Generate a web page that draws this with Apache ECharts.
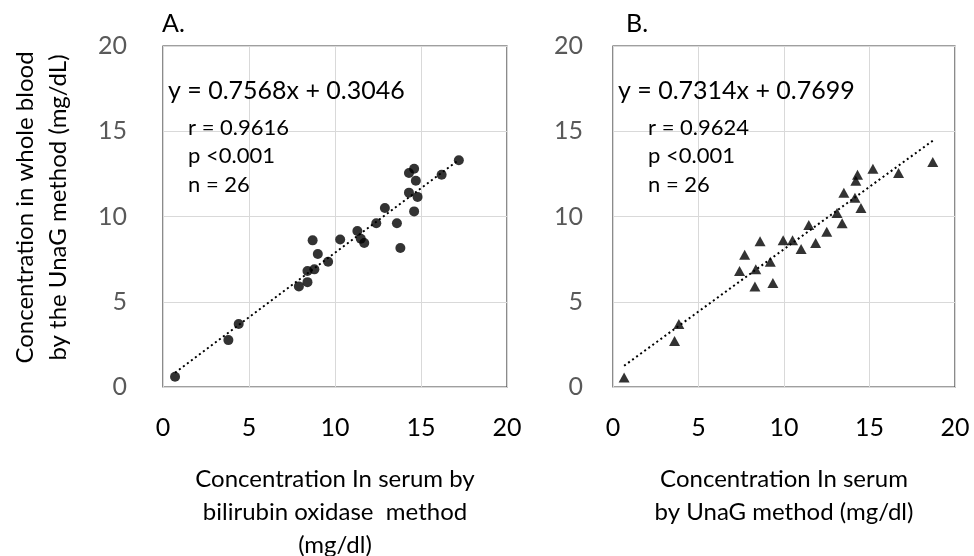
<!DOCTYPE html>
<html>
<head>
<meta charset="utf-8">
<script src="https://cdn.jsdelivr.net/npm/echarts@6/dist/echarts.min.js"></script>
<style>
  html, body { margin: 0; padding: 0; background: #fff; }
  #chart { width: 974px; height: 556px; }
</style>
</head>
<body>
<div id="chart"></div>
<script>
// panel A: serum (bilirubin oxidase) vs whole blood (UnaG)
const serumBOX = [0.7, 3.8, 4.4, 7.9, 8.4, 8.4, 8.8, 8.7, 9.0, 9.6, 10.3, 11.3, 11.5, 11.7, 12.4, 12.9, 13.6, 13.8, 14.3, 14.3, 14.6, 14.7, 14.6, 14.8, 16.2, 17.2];
const bloodA = [0.6, 2.75, 3.7, 5.9, 6.15, 6.8, 6.9, 8.6, 7.8, 7.35, 8.65, 9.15, 8.7, 8.45, 9.6, 10.5, 9.6, 8.15, 11.4, 12.55, 12.8, 12.1, 10.3, 11.15, 12.45, 13.3];

// panel B: serum (UnaG) vs whole blood (UnaG)
const serumUnaG = [0.65, 3.6, 3.85, 7.4, 7.7, 8.3, 8.35, 8.6, 9.2, 9.35, 9.95, 10.5, 11.0, 11.45, 11.85, 12.5, 13.1, 13.4, 13.5, 14.15, 14.2, 14.3, 14.5, 15.2, 16.7, 18.7];
const bloodB = [0.55, 2.7, 3.7, 6.8, 7.75, 5.9, 6.9, 8.55, 7.35, 6.1, 8.6, 8.6, 8.1, 9.5, 8.45, 9.1, 10.2, 9.6, 11.4, 11.1, 12.1, 12.45, 10.5, 12.8, 12.55, 13.2];

const fitA = { slope: 0.7568, intercept: 0.3046 };
const fitB = { slope: 0.7314, intercept: 0.7699 };
const statsA = ["r = 0.9616", "p <0.001", "n = 26"];
const statsB = ["r = 0.9624", "p <0.001", "n = 26"];
const ticks = [0, 5, 10, 15, 20];

const FONT = "Lato, 'Open Sans', sans-serif";

const pairs = (xs, ys) => xs.map((x, i) => [x, ys[i]]);
const fitLine = (xs, fit) => {
  const lo = Math.min(...xs), hi = Math.max(...xs);
  return [[lo, fit.slope * lo + fit.intercept], [hi, fit.slope * hi + fit.intercept]];
};

const axisCommon = {
  type: "value",
  min: ticks[0],
  max: ticks[ticks.length - 1],
  interval: 5,
  axisLine: { show: false },
  axisTick: { show: false },
  splitLine: { show: true, lineStyle: { color: "#d9d9d9", width: 1 } },
};
const xLabel = { fontSize: 25, color: "#000", margin: 28, fontFamily: FONT };
const yLabel = (m) => ({ fontSize: 25, color: "#595959", margin: m, padding: [8, 0, 0, 0], fontFamily: FONT });
const titleStyle = { fontSize: 24, color: "#000", lineHeight: 33, fontFamily: FONT };

const option = {
  animation: false,
  backgroundColor: "#fff",
  textStyle: { fontFamily: FONT },
  grid: [
    { left: 163, right: 467, top: 46, bottom: 169, outerBoundsMode: "none", containLabel: false, show: true, borderColor: "#404040", borderWidth: 1.2 },
    { left: 613, right: 19, top: 46, bottom: 169, outerBoundsMode: "none", containLabel: false, show: true, borderColor: "#404040", borderWidth: 1.2 },
  ],
  xAxis: [
    {
      ...axisCommon, gridIndex: 0, axisLabel: xLabel,
      name: "Concentration In serum by\nbilirubin oxidase  method\n(mg/dl)",
      nameLocation: "middle", nameGap: 76, nameTextStyle: titleStyle,
    },
    {
      ...axisCommon, gridIndex: 1, axisLabel: xLabel,
      name: "Concentration In serum\nby UnaG method (mg/dl)",
      nameLocation: "middle", nameGap: 76, nameTextStyle: titleStyle,
    },
  ],
  yAxis: [
    {
      ...axisCommon, gridIndex: 0, axisLabel: yLabel(36),
      name: "Concentration in whole blood\nby the UnaG method (mg/dL)",
      nameLocation: "middle", nameGap: 88,
      nameTextStyle: { ...titleStyle, padding: [0, 0, 0, 18] },
    },
    { ...axisCommon, gridIndex: 1, axisLabel: yLabel(30) },
  ],
  series: [
    {
      type: "line", xAxisIndex: 0, yAxisIndex: 0,
      data: fitLine(serumBOX, fitA), showSymbol: false, symbol: "none",
      lineStyle: { color: "#000", width: 2, type: [2, 3] }, z: 1,
    },
    {
      type: "scatter", xAxisIndex: 0, yAxisIndex: 0,
      data: pairs(serumBOX, bloodA), symbol: "circle", symbolSize: 10,
      itemStyle: { color: "#000" }, z: 2,
    },
    {
      type: "line", xAxisIndex: 1, yAxisIndex: 1,
      data: fitLine(serumUnaG, fitB), showSymbol: false, symbol: "none",
      lineStyle: { color: "#000", width: 2, type: [2, 3] }, z: 1,
    },
    {
      type: "scatter", xAxisIndex: 1, yAxisIndex: 1,
      data: pairs(serumUnaG, bloodB), symbol: "triangle", symbolSize: [11, 10],
      itemStyle: { color: "#000" }, z: 2,
    },
  ],
  graphic: [
    { type: "text", x: 162, y: 24, z: 10, style: { text: "A.", fontSize: 25, fill: "#000", verticalAlign: "middle", fontFamily: FONT } },
    { type: "text", x: 626, y: 24, z: 10, style: { text: "B.", fontSize: 25, fill: "#000", verticalAlign: "middle", fontFamily: FONT } },
    { type: "text", x: 168, y: 91, z: 10, style: { text: `y = ${fitA.slope}x + ${fitA.intercept}`, fontSize: 25, fill: "#000", verticalAlign: "middle", fontFamily: FONT } },
    { type: "text", x: 618, y: 91, z: 10, style: { text: `y = ${fitB.slope}x + ${fitB.intercept}`, fontSize: 25, fill: "#000", verticalAlign: "middle", fontFamily: FONT } },
    { type: "text", x: 188, y: 156, z: 10, style: { text: statsA.join("\n"), fontSize: 22, lineHeight: 28.5, fill: "#000", verticalAlign: "middle", fontFamily: FONT } },
    { type: "text", x: 648, y: 156, z: 10, style: { text: statsB.join("\n"), fontSize: 22, lineHeight: 28.5, fill: "#000", verticalAlign: "middle", fontFamily: FONT } },
  ],
};

const chart = echarts.init(document.getElementById("chart"));
chart.setOption(option);
</script>
</body>
</html>
